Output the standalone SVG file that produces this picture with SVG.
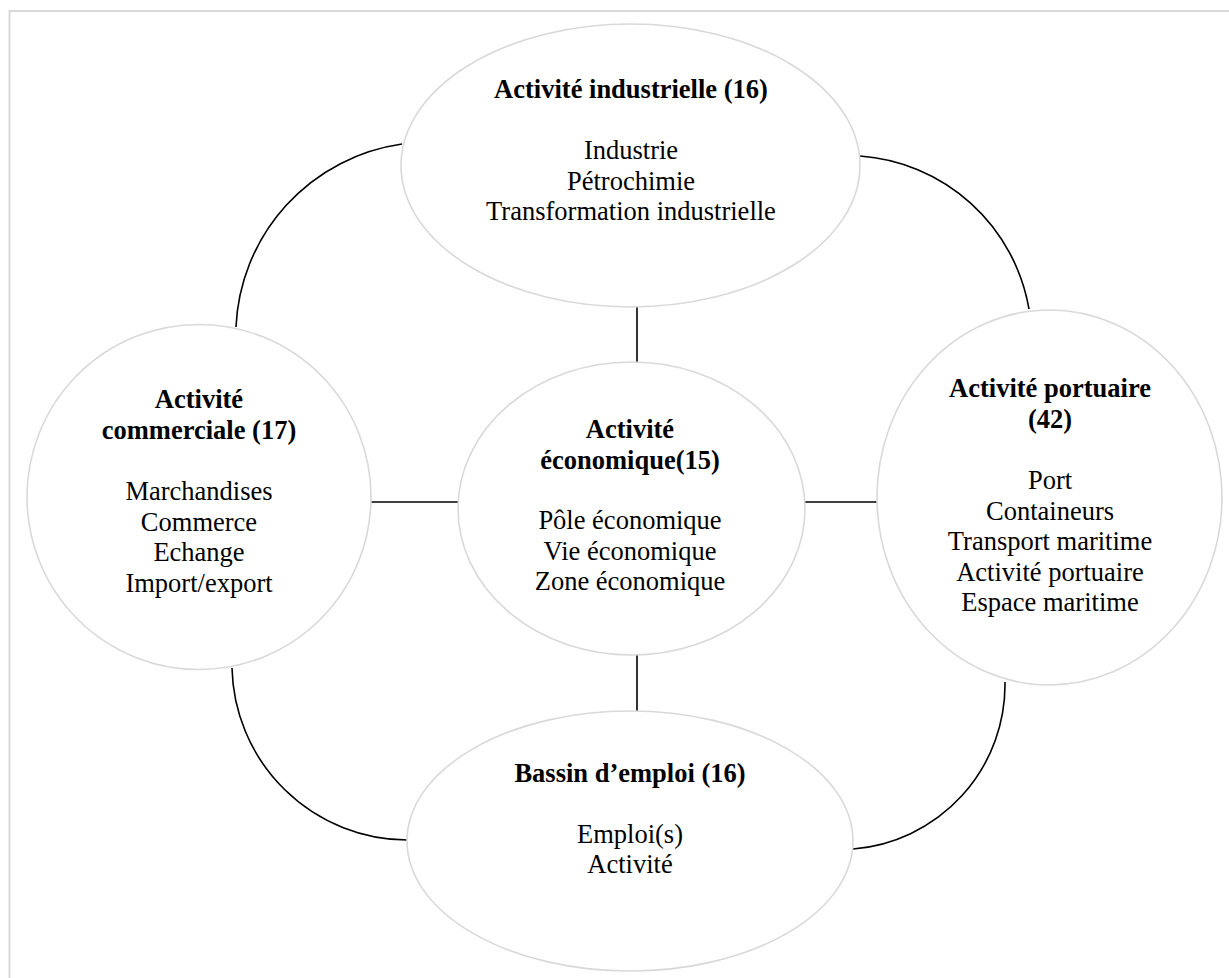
<svg xmlns="http://www.w3.org/2000/svg" width="1229" height="978" viewBox="0 0 1229 978">
<style>
.node{fill:#ffffff;stroke:#d9d9d9;stroke-width:1.6}
.con{fill:none;stroke:#000000;stroke-width:1.6}
text{font-family:"Liberation Serif","Times New Roman",serif;font-size:26.5px;fill:#000;text-anchor:middle}
.b{font-weight:bold}
</style>
<rect x="0" y="0" width="1229" height="978" fill="#ffffff"/>
<path d="M9.5,980 V11 H1232" fill="none" stroke="#d9d9d9" stroke-width="2"/>
<g id="connectors">
<path class="con" d="M402,144 A193.5,193.5 0 0,0 236,327"/>
<path class="con" d="M860,156 A185,185 0 0,1 1029,309"/>
<path class="con" d="M232,668 A176,176 0 0,0 407,840"/>
<path class="con" d="M1005,682 A165,165 0 0,1 853,849"/>
<line class="con" x1="637" y1="306" x2="637" y2="362"/>
<line class="con" x1="637" y1="655" x2="637" y2="711"/>
<line class="con" x1="371" y1="502" x2="458" y2="502"/>
<line class="con" x1="805" y1="502" x2="877" y2="502"/>
</g>
<g id="node-industrielle">
<ellipse class="node" cx="630.5" cy="165.5" rx="229.5" ry="141.5"/>
<text class="b" x="631" y="98">Activité industrielle (16)</text>
<text x="631" y="159">Industrie</text>
<text x="631" y="189.5">Pétrochimie</text>
<text x="631" y="220">Transformation industrielle</text>
</g>
<g id="node-commerciale">
<ellipse class="node" cx="199" cy="497" rx="172" ry="172.5"/>
<text class="b" x="199" y="408">Activité</text>
<text class="b" x="199" y="438.5">commerciale (17)</text>
<text x="199" y="500">Marchandises</text>
<text x="199" y="530.5">Commerce</text>
<text x="199" y="561">Echange</text>
<text x="199" y="591.5">Import/export</text>
</g>
<g id="node-economique">
<ellipse class="node" cx="631.5" cy="508.5" rx="173.5" ry="146.5"/>
<text class="b" x="630" y="438">Activité</text>
<text class="b" x="630" y="468.5">économique(15)</text>
<text x="630" y="529">Pôle économique</text>
<text x="630" y="559.5">Vie économique</text>
<text x="630" y="590">Zone économique</text>
</g>
<g id="node-portuaire">
<ellipse class="node" cx="1049.5" cy="497.5" rx="172.5" ry="187.5"/>
<text class="b" x="1050" y="397">Activité portuaire</text>
<text class="b" x="1050" y="427.5">(42)</text>
<text x="1050" y="489">Port</text>
<text x="1050" y="519.5">Containeurs</text>
<text x="1050" y="550">Transport maritime</text>
<text x="1050" y="580.5">Activité portuaire</text>
<text x="1050" y="611">Espace maritime</text>
</g>
<g id="node-emploi">
<ellipse class="node" cx="630" cy="841" rx="223" ry="130"/>
<text class="b" x="630" y="782">Bassin d’emploi (16)</text>
<text x="630" y="842.5">Emploi(s)</text>
<text x="630" y="873">Activité</text>
</g>
</svg>
